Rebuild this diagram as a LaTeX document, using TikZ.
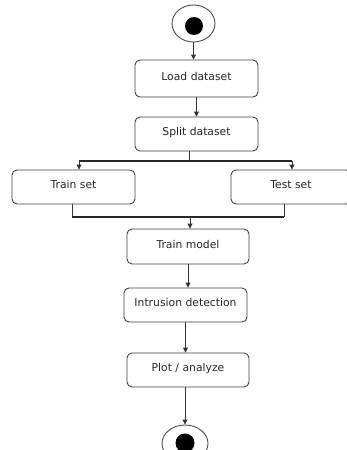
\documentclass[tikz,border=0pt]{standalone}
\usepackage{fontspec}
\setmainfont{DejaVu Sans}
\usetikzlibrary{arrows.meta,shapes.geometric}
\begin{document}
\begin{tikzpicture}[x=1pt,y=-1pt,
  box/.style={draw=black!75, line width=0.9pt, rounded corners=5pt, inner sep=0pt,
    text height=8pt, text depth=5pt,
    font=\fontsize{10.8}{12}\selectfont, text=black!85},
  conn/.style={draw=black!80, line width=0.9pt},
  arr/.style={conn, -{Triangle[length=5pt,width=5pt]}},
  bar/.style={draw=black!85, line width=1.4pt},
  ring/.style={ellipse, draw=black!70, line width=0.9pt, inner sep=0pt},
  dot/.style={circle, fill=black, inner sep=0pt}]
\useasboundingbox (0,0) rectangle (346,450);
\fill[white] (0,0) rectangle (346,450);
% start
\node[ring, minimum width=43pt, minimum height=37pt] (start) at (193.5,23.5) {};
\node[dot, minimum size=18pt] (startdot) at (194,26) {};
% boxes
\node[box, minimum width=123pt, minimum height=37pt] (load) at (196.5,78.5) {Load dataset};
\node[box, minimum width=123pt, minimum height=34pt] (split) at (196.5,134) {Split dataset};
\node[box, minimum width=123pt, minimum height=34pt] (train) at (73.5,187) {Train set};
\node[box, minimum width=120pt, minimum height=34pt] (test) at (291,187) {Test set};
\node[box, minimum width=122pt, minimum height=35pt] (model) at (188,246.5) {Train model};
\node[box, minimum width=123pt, minimum height=34pt] (intr) at (185.5,305) {Intrusion detection};
\node[box, minimum width=122pt, minimum height=34pt] (plot) at (188,370) {Plot / analyze};
% end
\node[ring, minimum width=46pt, minimum height=37pt] (end) at (185,443.5) {};
\node[dot, minimum size=19pt] (enddot) at (185,443) {};
% junction points
\coordinate (fork) at (189,161);
\coordinate (forkL) at (79,161);
\coordinate (forkR) at (292,161);
\coordinate (joinL) at (72,217);
\coordinate (joinR) at (284,217);
\coordinate (joinM) at (190,217);
% connectors
\draw[arr] (start.south) -- (start.south |- load.north);
\draw[arr] (load.south) -- (split.north);
\draw[conn] (split.south -| fork) -- (fork);
\draw[bar] (forkL) -- (forkR);
\draw[arr] (forkL) -- (forkL |- train.north);
\draw[arr] (forkR) -- (forkR |- test.north);
\draw[conn] (train.south -| joinL) -- (joinL);
\draw[conn] (test.south -| joinR) -- (joinR);
\draw[bar] (joinL) -- (joinR);
\draw[arr] (joinM) -- (joinM |- model.north);
\draw[arr] (model.south) -- (model.south |- intr.north);
\draw[arr] (intr.south) -- (intr.south |- plot.north);
\draw[arr] (plot.south -| end) -- (end.north);
\end{tikzpicture}
\end{document}
